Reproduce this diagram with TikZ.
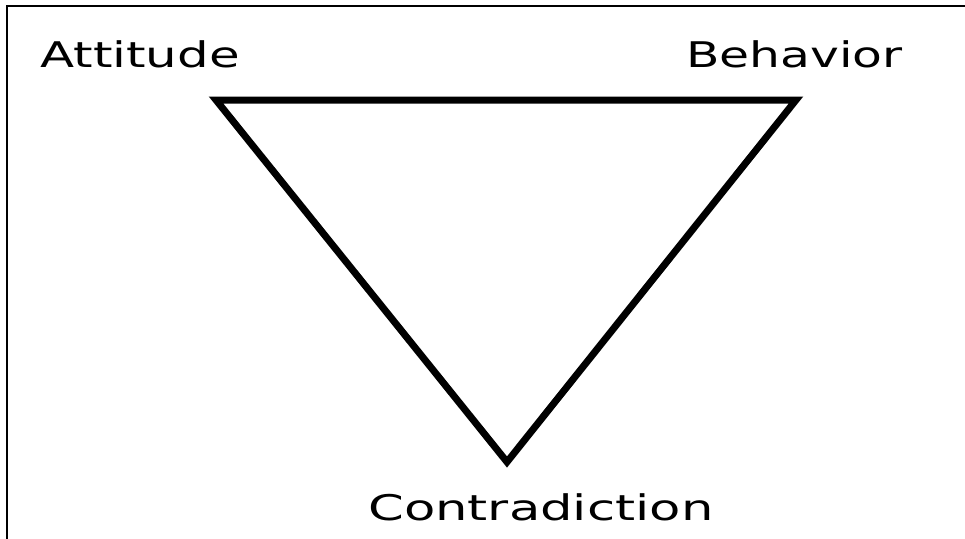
\documentclass[tikz,border=0pt]{standalone}
\usepackage{fontspec}
\setmainfont{DejaVu Sans}
\begin{document}
\begin{tikzpicture}[x=0.75pt,y=-0.75pt,
  lbl/.style={inner sep=0pt,anchor=base west,font=\fontsize{26.5pt}{30pt}\selectfont},
  tri/.style={line width=5.25pt,line join=miter},
  frame/.style={line width=1.6pt}]
\useasboundingbox (0,0) rectangle (965,539);
\coordinate (f1) at (7,539);
\coordinate (f2) at (7,6);
\coordinate (f3) at (965,6);
\draw[frame] (f1) -- (f2) -- (f3);
\coordinate (A) at (216,100);
\coordinate (B) at (796,100);
\coordinate (C) at (507,462);
\draw[tri] (A) -- (B) -- (C) -- cycle;
\node[lbl] (att) at (40,67) {\scalebox{1.41}[1]{Attitude}};
\node[lbl] (beh) at (686,67) {\scalebox{1.38}[1]{Behavior}};
\node[lbl] (con) at (368,520) {\scalebox{1.45}[1]{Contradiction}};
\end{tikzpicture}
\end{document}
